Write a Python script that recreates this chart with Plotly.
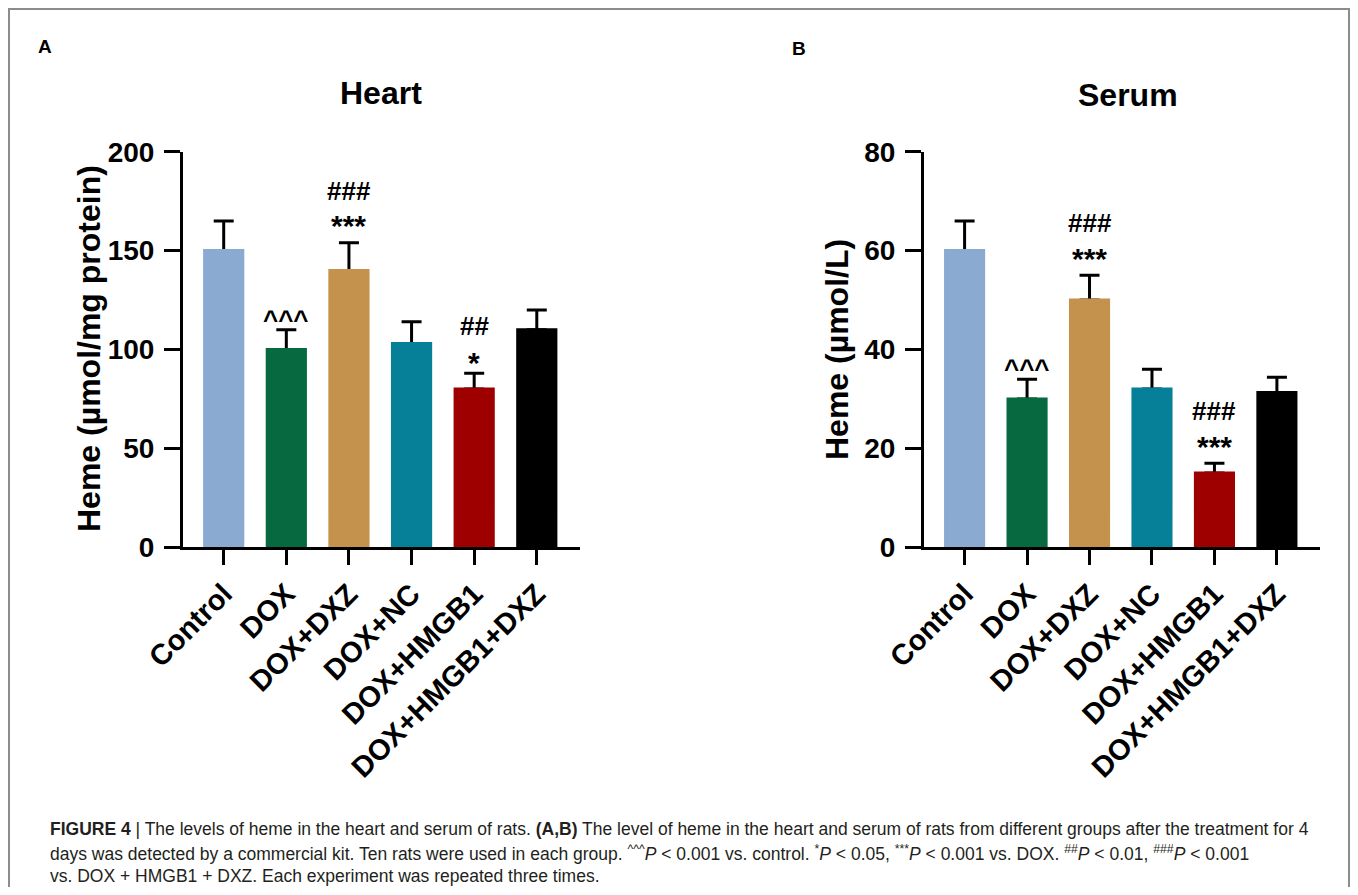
import plotly.graph_objects as go

# ---------------- data ----------------
categories = ["Control", "DOX", "DOX+DXZ", "DOX+NC", "DOX+HMGB1", "DOX+HMGB1+DXZ"]
bar_colors = ["#8AAAD2", "#07693F", "#C4924C", "#067F98", "#9E0000", "#000000"]

heart_mean = [150, 100, 140, 103, 80, 110]
heart_sd = [15, 10, 14, 11, 8, 10]
heart_sig_low = ["", "^^^", "***", "", "*", ""]
heart_sig_high = ["", "", "###", "", "##", ""]

serum_mean = [60, 30, 50, 32, 15, 31.3]
serum_sd = [6, 4, 5, 4, 2, 3.1]
serum_sig_low = ["", "^^^", "***", "", "***", ""]
serum_sig_high = ["", "", "###", "", "###", ""]

heart_ticks = [0, 50, 100, 150, 200]
serum_ticks = [0, 20, 40, 60, 80]

caption_lines = [
    "<b>FIGURE 4</b> | The levels of heme in the heart and serum of rats. <b>(A,B)</b> The level of heme in the heart and serum of rats from different groups after the treatment for 4",
    "days was detected by a commercial kit. Ten rats were used in each group. <sup>^^^</sup><i>P</i> &lt; 0.001 vs. control. <sup>*</sup><i>P</i> &lt; 0.05, <sup>***</sup><i>P</i> &lt; 0.001 vs. DOX. <sup>##</sup><i>P</i> &lt; 0.01, <sup>###</sup><i>P</i> &lt; 0.001",
    "vs. DOX + HMGB1 + DXZ. Each experiment was repeated three times.",
]

# ---------------- layout helpers ----------------
# the page body has an 8px margin; the figure is sized to fill the window inside it
OFF = 8
W, H = 1358 - 2 * OFF, 895 - 2 * OFF
FONT = "Liberation Sans, Arial, Helvetica, sans-serif"
CAP_FONT = "Liberation Sans, Arial, Helvetica, sans-serif"


def px(x):
    """screen x (window pixels) -> paper fraction"""
    return (x - OFF) / W


def py(y):
    """screen y (window pixels) -> paper fraction"""
    return 1 - (y - OFF) / H


# vertical offsets (px) of significance marks above each error bar top
low_shift = {"^^^": 10, "*": 11, "***": 17}
low_size = {"^^^": 26, "*": 30, "***": 30}
high_shift = {"##": 47, "###": 52}

fig = go.Figure()

panels = [
    dict(xa="x", ya="y", mean=heart_mean, sd=heart_sd, low=heart_sig_low, high=heart_sig_high),
    dict(xa="x2", ya="y2", mean=serum_mean, sd=serum_sd, low=serum_sig_low, high=serum_sig_high),
]

annotations = []
for p in panels:
    # bars carrying the (one-sided) error bars
    fig.add_trace(go.Bar(
        x=categories, y=p["mean"], xaxis=p["xa"], yaxis=p["ya"],
        marker=dict(color=bar_colors, line=dict(width=0)),
        width=0.61,
        error_y=dict(type="data", symmetric=False, array=p["sd"],
                     arrayminus=[0] * len(p["sd"]),
                     color="black", thickness=3, width=10),
        showlegend=False, hoverinfo="skip",
    ))
    # same bars on top, hiding the lower cap of the error bars
    fig.add_trace(go.Bar(
        x=categories, y=p["mean"], xaxis=p["xa"], yaxis=p["ya"],
        marker=dict(color=bar_colors, line=dict(width=3, color=bar_colors)),
        width=0.61,
        showlegend=False, hoverinfo="skip",
    ))
    for cat, m, s, lo, hi in zip(categories, p["mean"], p["sd"], p["low"], p["high"]):
        if lo:
            annotations.append(dict(
                x=cat, y=m + s, xref=p["xa"], yref=p["ya"], text=lo,
                showarrow=False, yanchor="middle", xanchor="center", yshift=low_shift[lo],
                font=dict(family=FONT, size=low_size[lo], color="black", weight="bold"),
            ))
        if hi:
            annotations.append(dict(
                x=cat, y=m + s, xref=p["xa"], yref=p["ya"], text=hi,
                showarrow=False, yanchor="middle", xanchor="center", yshift=high_shift[hi],
                font=dict(family=FONT, size=26, color="black", weight="bold"),
            ))

xaxis_common = dict(
    type="category", range=[-0.65, 5.69], showline=True, linewidth=3, linecolor="black",
    ticks="outside", ticklen=15, tickwidth=3, tickcolor="black", tickangle=-45,
    tickfont=dict(family=FONT, size=29, color="black", weight="bold"),
    showgrid=False, zeroline=False, fixedrange=True, automargin=False,
)
yaxis_common = dict(
    showline=True, linewidth=3, linecolor="black",
    ticks="outside", ticklen=16, tickwidth=3, tickcolor="black",
    tickfont=dict(family=FONT, size=28, color="black", weight="bold"),
    ticklabelstandoff=4,
    showgrid=False, zeroline=False, fixedrange=True, automargin=False,
)

y_top, y_bot = 151.7, 547.3

fig.update_layout(
    template="none",
    width=W, height=H, autosize=False,
    margin=dict(l=0, r=0, t=0, b=0, pad=0),
    paper_bgcolor="white", plot_bgcolor="white",
    barmode="overlay",
    xaxis=dict(xaxis_common, domain=[px(183), px(580)], anchor="y"),
    yaxis=dict(yaxis_common, domain=[py(y_bot), py(y_top)], anchor="x",
               range=[0, 200], tickvals=heart_ticks),
    xaxis2=dict(xaxis_common, domain=[px(924), px(1320)], anchor="y2"),
    yaxis2=dict(yaxis_common, domain=[py(y_bot), py(y_top)], anchor="x2",
                range=[0, 80], tickvals=serum_ticks),
)


def label(x, y, text, size, angle=0):
    return dict(x=px(x), y=py(y), xref="paper", yref="paper", text=text, showarrow=False,
                xanchor="center", yanchor="middle", textangle=angle,
                font=dict(family=FONT, size=size, color="black", weight="bold"))


annotations += [
    label(45, 47, "A", 19),
    label(799, 48, "B", 19),
    label(381, 93, "Heart", 32),
    label(1128, 95, "Serum", 32),
    label(89, 349, "Heme (µmol/mg protein)", 32, -90),
    label(837, 350, "Heme (µmol/L)", 32, -90),
]

# caption
for i, line in enumerate(caption_lines):
    annotations.append(dict(
        x=px(48), y=py(829 + 23.5 * i), xref="paper", yref="paper", text=line,
        showarrow=False, xanchor="left", yanchor="middle", align="left",
        font=dict(family=CAP_FONT, size=17.5, color="#231F20"),
    ))

fig.update_layout(annotations=annotations)

# outer frame (bottom edge lies below the visible area)
fig.add_shape(type="rect", xref="paper", yref="paper",
              x0=px(9), x1=px(1349), y0=-0.02, y1=py(9),
              line=dict(color="#8C8C8C", width=2), fillcolor="rgba(0,0,0,0)")

fig.write_html("out.html")
